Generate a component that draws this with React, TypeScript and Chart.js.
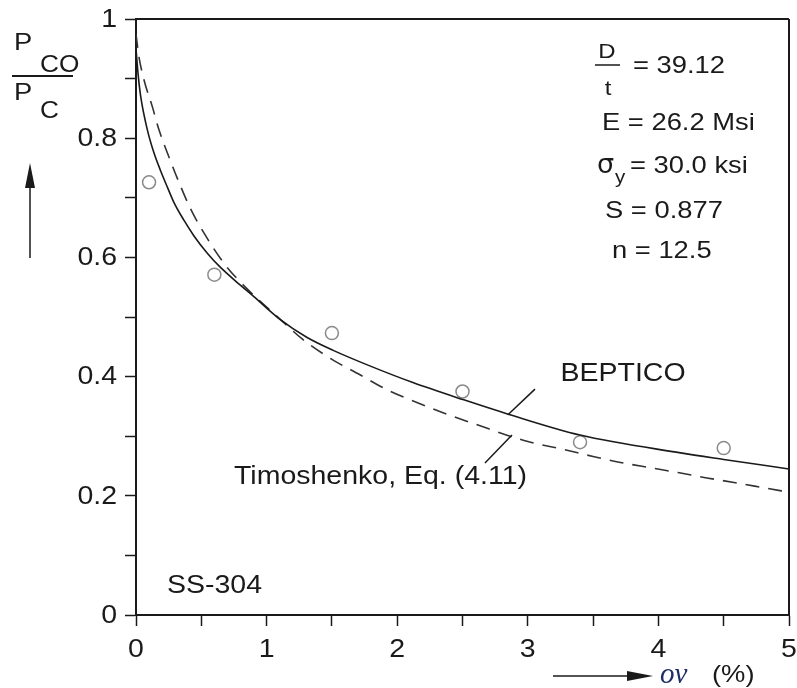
import { useEffect, useRef } from 'react';
import { Chart, registerables } from 'chart.js';

Chart.register(...registerables);

// ---------- data ----------
const solidX = [0, 0.015, 0.036, 0.087, 0.138, 0.189, 0.24, 0.291, 0.368, 0.444, 0.546, 0.643, 0.801, 0.898, 1.103, 1.307, 1.51, 1.79, 2.12, 2.51, 2.85, 3.4, 4.17, 4.5, 5];
const solidY = [0.95, 0.91, 0.87, 0.814, 0.775, 0.745, 0.718, 0.692, 0.662, 0.636, 0.607, 0.584, 0.553, 0.535, 0.496, 0.466, 0.444, 0.418, 0.39, 0.361, 0.337, 0.302, 0.272, 0.261, 0.245];

const dashedX = [0, 0.02, 0.061, 0.125, 0.176, 0.253, 0.329, 0.419, 0.534, 0.681, 0.847, 1.1, 1.268, 1.485, 1.715, 1.94, 2.17, 2.38, 2.6, 3.0, 3.27, 3.5, 3.71, 3.94, 4.15, 4.37, 4.59, 4.82, 5];
const dashedY = [0.975, 0.94, 0.898, 0.853, 0.814, 0.768, 0.726, 0.681, 0.636, 0.588, 0.548, 0.497, 0.464, 0.431, 0.403, 0.376, 0.355, 0.337, 0.32, 0.291, 0.278, 0.266, 0.256, 0.247, 0.239, 0.23, 0.222, 0.213, 0.206];

const testX = [0.1, 0.6, 1.5, 2.5, 3.4, 4.5];
const testY = [0.726, 0.571, 0.473, 0.375, 0.29, 0.28];

const xTickLabels = ['0', '1', '2', '3', '4', '5'];
const yTickLabels = ['0', '0.2', '0.4', '0.6', '0.8', '1'];

const solidLabel = 'BEPTICO';
const dashedLabel = 'Timoshenko, Eq. (4.11)';
const materialLabel = 'SS-304';

// ---------- styling ----------
const FONT = '"Liberation Sans", Arial, Helvetica, sans-serif';
const SX = 1.14;
const INK = '#1a1a1a';

function txt(ctx: CanvasRenderingContext2D, s: string, x: number, y: number, size: number, align: CanvasTextAlign = 'left', base: CanvasTextBaseline = 'alphabetic', family = FONT, style = '') {
  ctx.save();
  ctx.font = `${style} ${size}px ${family}`;
  ctx.textAlign = align;
  ctx.textBaseline = base;
  ctx.fillStyle = INK;
  ctx.translate(x, y);
  ctx.scale(SX, 1);
  ctx.fillText(s, 0, 0);
  ctx.restore();
}

function line(ctx: CanvasRenderingContext2D, x1: number, y1: number, x2: number, y2: number, w = 1.5) {
  ctx.save();
  ctx.strokeStyle = INK;
  ctx.lineWidth = w;
  ctx.beginPath();
  ctx.moveTo(x1, y1);
  ctx.lineTo(x2, y2);
  ctx.stroke();
  ctx.restore();
}

const decorPlugin = {
  id: 'decor',
  afterDraw(chart: any) {
    const ctx: CanvasRenderingContext2D = chart.ctx;
    const ca = chart.chartArea;
    const xs = chart.scales.x;
    const ys = chart.scales.y;
    const px = (v: number) => xs.getPixelForValue(v);
    const py = (v: number) => ys.getPixelForValue(v);

    // frame top & right
    line(ctx, ca.left, ca.top, ca.right, ca.top, 2);
    line(ctx, ca.right, ca.top, ca.right, ca.bottom, 2);

    // tick labels
    yTickLabels.forEach((l) => txt(ctx, l, ca.left - 19, py(parseFloat(l)) + 1, 25, 'right', 'middle'));
    xTickLabels.forEach((l) => txt(ctx, l, px(parseFloat(l)), ca.bottom + 42, 25, 'center', 'alphabetic'));

    // y-axis label: P_CO / P_C with arrow
    txt(ctx, 'P', 14, 50, 24);
    txt(ctx, 'CO', 40, 72, 23);
    line(ctx, 12, 76, 73, 76, 2);
    txt(ctx, 'P', 14, 100, 24);
    txt(ctx, 'C', 40, 118, 23);
    line(ctx, 30, 258, 30, 180, 1.5);
    ctx.save();
    ctx.fillStyle = INK;
    ctx.beginPath();
    ctx.moveTo(30, 163);
    ctx.lineTo(25, 188);
    ctx.lineTo(35, 188);
    ctx.closePath();
    ctx.fill();
    ctx.restore();

    // x-axis label: arrow ov (%)
    line(ctx, 553, 676, 635, 676, 1.5);
    ctx.save();
    ctx.fillStyle = INK;
    ctx.beginPath();
    ctx.moveTo(653, 676);
    ctx.lineTo(627, 671);
    ctx.lineTo(627, 681);
    ctx.closePath();
    ctx.fill();
    ctx.restore();
    ctx.save();
    ctx.font = 'italic 29px "Liberation Serif", "DejaVu Serif", serif';
    ctx.fillStyle = '#1e2f66';
    ctx.textBaseline = 'alphabetic';
    ctx.fillText('ov', 660, 683);
    ctx.restore();
    txt(ctx, '(%)', 712, 682, 24);

    // parameter block
    txt(ctx, 'D', 607, 58, 21, 'center');
    line(ctx, 595, 65, 620, 65, 1.5);
    txt(ctx, 't', 608, 95, 21, 'center');
    txt(ctx, '= 39.12', 633, 73, 24);
    txt(ctx, 'E = 26.2 Msi', 602, 130, 24);
    ctx.save();
    ctx.font = '27px "DejaVu Sans", sans-serif';
    ctx.fillStyle = INK;
    ctx.fillText('σ', 597, 173);
    ctx.restore();
    txt(ctx, 'y', 615, 183, 18);
    txt(ctx, '= 30.0 ksi', 630, 173, 24);
    txt(ctx, 'S = 0.877', 605, 218, 24);
    txt(ctx, 'n = 12.5', 612, 258, 24);

    // curve annotations
    txt(ctx, solidLabel, px(3.25), py(0.404), 25, 'left', 'middle');
    line(ctx, px(3.055), py(0.379), px(2.848), py(0.336), 1.5);
    txt(ctx, dashedLabel, px(2.994), py(0.2315), 25, 'right', 'middle');
    line(ctx, px(2.879), py(0.302), px(2.672), py(0.255), 1.5);
    txt(ctx, materialLabel, px(0.237), py(0.049), 25, 'left', 'middle');
  },
};

export default function App() {
  const ref = useRef<HTMLCanvasElement | null>(null);

  useEffect(() => {
    if (!ref.current) return;
    const chart = new Chart(ref.current, {
      type: 'scatter',
      data: {
        datasets: [
          {
            label: solidLabel,
            data: solidX.map((x, i) => ({ x, y: solidY[i] })),
            showLine: true,
            borderColor: INK,
            borderWidth: 1.6,
            pointRadius: 0,
            cubicInterpolationMode: 'monotone',
          },
          {
            label: dashedLabel,
            data: dashedX.map((x, i) => ({ x, y: dashedY[i] })),
            showLine: true,
            borderColor: '#333',
            borderWidth: 1.6,
            borderDash: [14, 9],
            pointRadius: 0,
            cubicInterpolationMode: 'monotone',
          },
          {
            label: 'Test',
            data: testX.map((x, i) => ({ x, y: testY[i] })),
            showLine: false,
            pointRadius: 6.5,
            pointStyle: 'circle',
            pointBorderColor: '#8a8a8a',
            pointBackgroundColor: '#ffffff',
            pointBorderWidth: 1.5,
          },
        ],
      } as any,
      options: {
        animation: false,
        responsive: false,
        maintainAspectRatio: false,
        layout: { padding: { left: 0, top: 19, right: 8, bottom: 0 } },
        plugins: { legend: { display: false }, tooltip: { enabled: false } },
        scales: {
          x: {
            type: 'linear',
            min: 0,
            max: 5,
            ticks: { stepSize: 0.5, display: false },
            grid: { drawOnChartArea: false, drawTicks: true, tickLength: 11, tickColor: INK, tickWidth: 1.5 },
            border: { color: INK, width: 2 },
            afterFit: (s: any) => { s.height = 73; },
          },
          y: {
            type: 'linear',
            min: 0,
            max: 1,
            ticks: { stepSize: 0.1, display: false },
            grid: { drawOnChartArea: false, drawTicks: true, tickLength: 11, tickColor: INK, tickWidth: 1.5 },
            border: { color: INK, width: 2 },
            afterFit: (s: any) => { s.width = 136; },
          },
        },
      } as any,
      plugins: [decorPlugin],
    });
    return () => chart.destroy();
  }, []);

  return (
    <div style={{ position: 'fixed', left: 0, top: 0, width: 797, height: 688, background: '#fff' }}>
      <canvas ref={ref} width={797} height={688} style={{ display: 'block', width: 797, height: 688 }} />
    </div>
  );
}
